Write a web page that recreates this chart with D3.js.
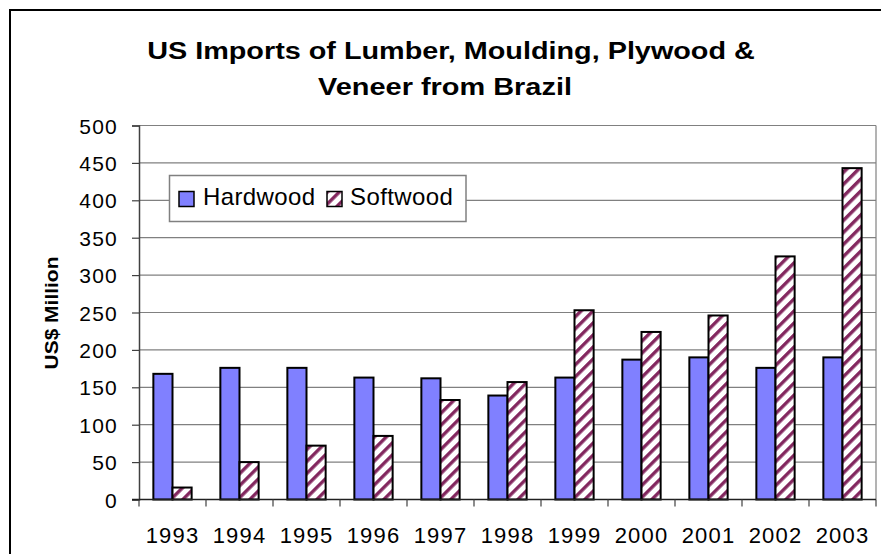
<!DOCTYPE html>
<html>
<head>
<meta charset="utf-8">
<script src="https://cdn.jsdelivr.net/npm/d3@7"></script>
<style>
    body { margin: 0; background: #fff; }
    text { font-family: "Liberation Sans", Arial, sans-serif; fill: #000; }
    .gridline { stroke: #808080; stroke-width: 1.2; }
    .bar { stroke: #000; stroke-width: 2; }
</style>
</head>
<body>
<script>
(function(){
//chart data
    var years = ["1993", "1994", "1995", "1996", "1997", "1998", "1999", "2000", "2001", "2002", "2003"];
    var seriesNames = ["Hardwood", "Softwood"];
    var hardwood = [168, 176, 176, 163, 162, 139, 163, 187, 190, 176, 190];
    var softwood = [16, 50, 72, 85, 133, 157, 253, 224, 246, 325, 443];
    var yTicks = [0, 50, 100, 150, 200, 250, 300, 350, 400, 450, 500];

    //begin script when window loads
    window.onload = setChart();

    //draw a centred label with its glyphs widened to a target length
    function wideText(parent, str, cx, cy, target, rotate){
        var g = parent.append("g")
            .attr("transform", "translate(" + cx + "," + cy + ")" + (rotate ? " rotate(" + rotate + ")" : ""));
        var t = g.append("text")
            .attr("text-anchor", "middle")
            .text(str);
        var w = t.node().getComputedTextLength();
        t.attr("transform", "scale(" + (target / w) + ",1)");
        return t;
    }

    function setChart(){
        var width = 881,
            height = 554,
            plotLeft = 139,
            plotRight = 876,
            plotTop = 125.5,
            plotBottom = 499.5;

        var svg = d3.select("body")
            .append("svg")
            .attr("width", width)
            .attr("height", height);

        //hatch pattern for softwood bars
        var defs = svg.append("defs");
        var pattern = defs.append("pattern")
            .attr("id", "hatch")
            .attr("patternUnits", "userSpaceOnUse")
            .attr("width", 8.5)
            .attr("height", 8.5)
            .attr("patternTransform", "rotate(45)");
        pattern.append("rect")
            .attr("width", 8.5)
            .attr("height", 8.5)
            .attr("fill", "#fff");
        pattern.append("rect")
            .attr("width", 3.4)
            .attr("height", 8.5)
            .attr("fill", "#83285f");

        //outer chart frame, runs off the right and bottom edges
        svg.append("rect")
            .attr("x", 10)
            .attr("y", 10)
            .attr("width", 920)
            .attr("height", 620)
            .attr("fill", "#fff")
            .attr("stroke", "#000")
            .attr("stroke-width", 2);

        //title
        var title = svg.append("g")
            .style("font-size", "24.5px")
            .style("font-weight", "bold");
        wideText(title, "US Imports of Lumber, Moulding, Plywood &", 451, 59, 608);
        wideText(title, "Veneer from Brazil", 445, 95, 254);

        //scales
        var x0 = d3.scaleBand()
            .domain(years)
            .range([plotLeft, plotRight]);

        var step = x0.step(),
            groupWidth = step / 3.5 * 2;

        var x1 = d3.scaleBand()
            .domain(seriesNames)
            .range([(step - groupWidth) / 2, (step + groupWidth) / 2]);

        var yScale = d3.scaleLinear()
            .domain([0, 500])
            .range([plotBottom, plotTop]);

        //gridlines
        svg.selectAll(".gridline")
            .data(yTicks.slice(1))
            .enter()
            .append("line")
            .attr("class", "gridline")
            .attr("x1", plotLeft)
            .attr("x2", plotRight)
            .attr("y1", function(d){ return yScale(d); })
            .attr("y2", function(d){ return yScale(d); });

        //right edge of plot area
        svg.append("line")
            .attr("x1", plotRight)
            .attr("x2", plotRight)
            .attr("y1", plotTop)
            .attr("y2", plotBottom)
            .attr("stroke", "#808080")
            .attr("stroke-width", 1.2);

        //y axis
        var yAxis = d3.axisLeft(yScale)
            .tickValues(yTicks)
            .tickSize(7)
            .tickPadding(14);

        var yAxisG = svg.append("g")
            .attr("transform", "translate(" + plotLeft + ",0)")
            .call(yAxis);
        yAxisG.select(".domain").attr("stroke", "#404040").attr("stroke-width", 1.5);
        yAxisG.selectAll(".tick line").attr("stroke", "#404040").attr("stroke-width", 1.2);
        yAxisG.selectAll(".tick text")
            .style("font-size", "21px")
            .style("letter-spacing", "1.2px")
            .attr("font-family", null)
            .attr("dy", "0.36em");

        //bars
        var data = years.map(function(year, i){
            return { year: year, values: [
                { name: "Hardwood", value: hardwood[i] },
                { name: "Softwood", value: softwood[i] }
            ]};
        });

        var groups = svg.selectAll(".group")
            .data(data)
            .enter()
            .append("g")
            .attr("class", "group")
            .attr("transform", function(d){
                return "translate(" + x0(d.year) + ",0)";
            });

        groups.selectAll(".bar")
            .data(function(d){ return d.values; })
            .enter()
            .append("rect")
            .attr("class", "bar")
            .attr("x", function(d){ return x1(d.name); })
            .attr("width", x1.bandwidth())
            .attr("y", function(d){ return yScale(d.value); })
            .attr("height", function(d){ return plotBottom - yScale(d.value); })
            .attr("fill", function(d){
                return d.name == "Hardwood" ? "#8080ff" : "url(#hatch)";
            });

        //x axis, ticks sit on band edges
        var xAxisG = svg.append("g")
            .attr("transform", "translate(0," + plotBottom + ")");
        xAxisG.append("line")
            .attr("x1", plotLeft - 7)
            .attr("x2", plotRight)
            .attr("stroke", "#202020")
            .attr("stroke-width", 1.5);
        xAxisG.selectAll(".xtick")
            .data(years.concat(["end"]))
            .enter()
            .append("line")
            .attr("class", "xtick")
            .attr("x1", function(d){ return d == "end" ? plotRight : x0(d); })
            .attr("x2", function(d){ return d == "end" ? plotRight : x0(d); })
            .attr("y1", 0)
            .attr("y2", 7)
            .attr("stroke", "#404040")
            .attr("stroke-width", 1.2);
        xAxisG.selectAll(".xlabel")
            .data(years)
            .enter()
            .append("text")
            .attr("class", "xlabel")
            .attr("x", function(d){ return x0(d) + step / 2; })
            .attr("y", 43.5)
            .attr("text-anchor", "middle")
            .style("font-size", "22px")
            .style("letter-spacing", "1.2px")
            .text(function(d){ return d; });

        //y axis title
        var yTitle = svg.append("g")
            .style("font-size", "18px")
            .style("font-weight", "bold");
        wideText(yTitle, "US$ Million", 58, 313, 113, -90);

        //legend
        var legend = svg.append("g");
        legend.append("rect")
            .attr("x", 169.5)
            .attr("y", 175.5)
            .attr("width", 296.5)
            .attr("height", 46)
            .attr("fill", "#fff")
            .attr("stroke", "#808080")
            .attr("stroke-width", 1.5);

        var legendX = [179, 327],
            textX = [203, 350];

        seriesNames.forEach(function(name, i){
            legend.append("rect")
                .attr("x", legendX[i])
                .attr("y", 191.5)
                .attr("width", 15)
                .attr("height", 15)
                .attr("fill", name == "Hardwood" ? "#8080ff" : "url(#hatch)")
                .attr("stroke", "#000")
                .attr("stroke-width", 1.5);
            legend.append("text")
                .attr("x", textX[i])
                .attr("y", 205)
                .style("font-size", "24px")
                .style("letter-spacing", "0.4px")
                .text(name);
        });
    };
})();
</script>
</body>
</html>
